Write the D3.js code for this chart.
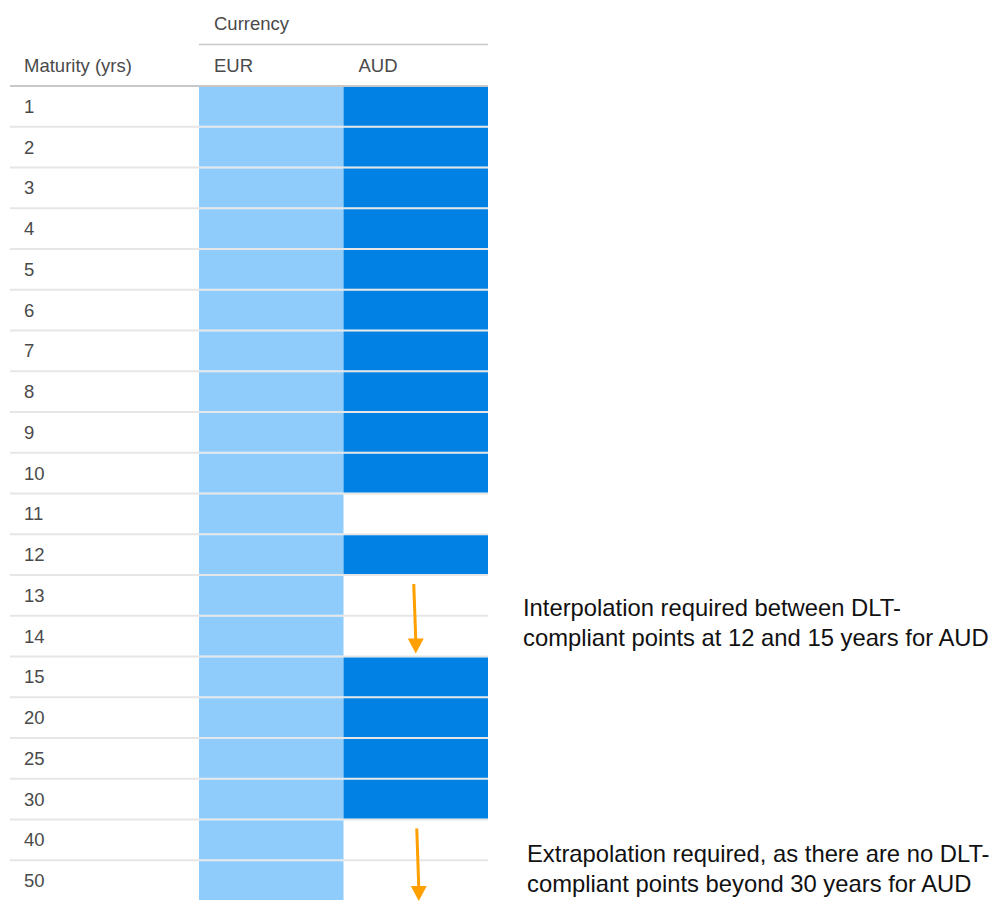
<!DOCTYPE html>
<html><head><meta charset="utf-8">
<script src="https://cdn.jsdelivr.net/npm/d3@7"></script>
<style>body{margin:0;background:#fff}</style>
</head><body><svg id="c" width="998" height="901" style="display:block"></svg>
<script>
const maturities = ["1","2","3","4","5","6","7","8","9","10","11","12","13","14","15","20","25","30","40","50"];
const currencies = ["EUR","AUD"];
const eurAvailable = [1,1,1,1,1,1,1,1,1,1,1,1,1,1,1,1,1,1,1,1];
const audAvailable = [1,1,1,1,1,1,1,1,1,1,0,1,0,0,1,1,1,1,0,0];
const annotations = [
  {from:"13", to:"15", lines:["Interpolation required between DLT-","compliant points at 12 and 15 years for AUD"]},
  {from:"40", to:null, lines:["Extrapolation required, as there are no DLT-","compliant points beyond 30 years for AUD"]}
];
const colors = {EUR:"#8fcbfb", AUD:"#0081e3"};
const FONT = "'Liberation Sans', Arial, Helvetica, sans-serif";

const svg = d3.select("#c");
const y = d3.scaleBand().domain(maturities).range([86, 901]).padding(0);
const x = d3.scaleBand().domain(currencies).range([199, 488]).padding(0);
const labelX = 10;
const textCol = "#4a4a4a";
const fs = 18.5;

function txt(xp, yp, s, size, col){
  return svg.append("text").attr("x",xp).attr("y",yp).attr("dy","0.35em")
    .attr("font-family",FONT).attr("fill",col||textCol).attr("font-size",size||fs).text(s);
}

// header
txt(214, 24, "Currency");
svg.append("line").attr("x1",199).attr("x2",488).attr("y1",44.5).attr("y2",44.5).attr("stroke","#c8c8c8").attr("stroke-width",1.5);
txt(24, 66, "Maturity (yrs)");
currencies.forEach(c=> txt(x(c)+15, 66, c));

// row separators
svg.selectAll("line.sep").data(maturities.slice(1)).join("line").attr("class","sep")
  .attr("x1",labelX).attr("x2",488).attr("y1",d=>y(d)).attr("y2",d=>y(d))
  .attr("stroke","#e6e6e6").attr("stroke-width",2);

// cells
const cells = [];
maturities.forEach((m,i)=>{
  if(eurAvailable[i]) cells.push({m, c:"EUR"});
  if(audAvailable[i]) cells.push({m, c:"AUD"});
});
svg.selectAll("rect.cell").data(cells).join("rect").attr("class","cell")
  .attr("x",d=>x(d.c)).attr("width",x.bandwidth())
  .attr("y",d=>y(d.m)+1).attr("height",y.bandwidth()-2)
  .attr("fill",d=>colors[d.c]);

// header bottom line
svg.append("line").attr("x1",labelX).attr("x2",488).attr("y1",86).attr("y2",86).attr("stroke","#c8c8c8").attr("stroke-width",2);

// row labels
maturities.forEach(m=> txt(24, y(m)+y.bandwidth()/2, m));

// arrows + annotations
const orange = "#ffa000";
const ax = x("AUD") + x.bandwidth()/2;
annotations.forEach((a,k)=>{
  const y0 = y(a.from) + 9;
  const y1 = a.to ? y(a.to) - 3 : 901;
  const x0 = ax - 2 + k*3, x1 = ax + k*3;
  svg.append("line").attr("x1",x0).attr("x2",x1).attr("y1",y0).attr("y2",y1-14)
    .attr("stroke",orange).attr("stroke-width",3);
  svg.append("path").attr("d",`M${x1-8},${y1-15}L${x1+8},${y1-15}L${x1},${y1}Z`).attr("fill",orange);
  const ty = a.to ? (y(a.from) + y(a.to))/2 + 6.5 : y(a.from) + y.bandwidth() + 8;
  a.lines.forEach((ln,j)=> txt(523 + k*4, ty - 15 + j*30, ln, 23.8, "#111"));
});
</script></body></html>
